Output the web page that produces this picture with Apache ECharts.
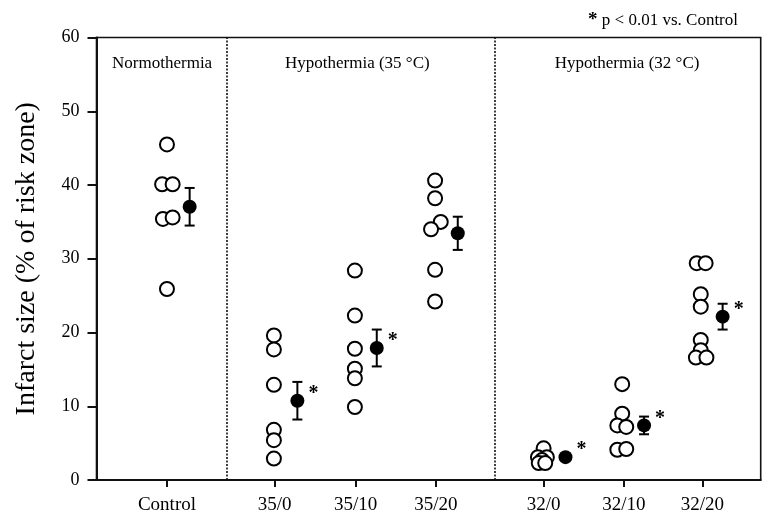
<!DOCTYPE html>
<html>
<head>
<meta charset="utf-8">
<script src="https://cdn.jsdelivr.net/npm/echarts@6/dist/echarts.min.js"></script>
<style>
html,body{margin:0;padding:0;background:#fff}
#chart{width:765px;height:518px}
</style>
</head>
<body>
<div id="chart"></div>
<script>
// groups and where they sit on the x axis
var groups = ['Control', '35/0', '35/10', '35/20', '32/0', '32/10', '32/20'];
var groupX = [0.87, 2.2, 3.2, 4.19, 5.52, 6.51, 7.48];
var dividers = [1.607, 4.92];
var headers = ['Normothermia', 'Hypothermia (35 °C)', 'Hypothermia (32 °C)'];
var headerX = [0.81, 3.22, 6.55];
var headerY = 56.5;

// individual animals (open circles), with small horizontal jitter
var pts = [
  [45.5, 40.1, 40.1, 35.4, 35.6, 25.9],
  [19.6, 17.7, 12.9, 6.8, 5.4, 2.9],
  [28.4, 22.3, 17.8, 15.1, 13.8, 9.9],
  [40.6, 38.2, 35.0, 34.0, 28.5, 24.2],
  [4.3, 3.1, 3.1, 2.7, 2.3, 2.3],
  [13.0, 9.0, 7.4, 7.2, 4.1, 4.2],
  [29.4, 29.4, 25.2, 23.5, 19.0, 17.6, 16.6, 16.6]
];
var jitter = [
  [0, -0.06, 0.07, -0.05, 0.07, 0],
  [-0.01, -0.01, -0.01, -0.01, -0.01, -0.01],
  [-0.01, -0.01, -0.01, -0.01, -0.01, -0.01],
  [-0.01, -0.01, 0.06, -0.06, -0.01, -0.01],
  [0, -0.07, 0.04, -0.02, -0.06, 0.02],
  [-0.02, -0.02, -0.08, 0.03, -0.08, 0.03],
  [-0.07, 0.04, -0.02, -0.02, -0.02, -0.02, -0.08, 0.05]
];

// mean +- SEM (filled circles)
var means = [37.05, 10.75, 17.9, 33.45, 3.1, 7.4, 22.15];
var sem = [2.55, 2.55, 2.5, 2.25, 0.3, 1.2, 1.75];
var meanOffset = [0.28, 0.28, 0.26, 0.27, 0.27, 0.25, 0.25];
var stars = [false, true, true, false, true, true, true];

var yTicks = [0, 10, 20, 30, 40, 50, 60];

var FONT = '"Liberation Serif", "DejaVu Serif", serif';

var circleData = [];
for (var g = 0; g < groups.length; g++) {
  for (var i = 0; i < pts[g].length; i++) {
    circleData.push([groupX[g] + jitter[g][i], pts[g][i]]);
  }
}
var meanData = [];
var errData = [];
for (g = 0; g < groups.length; g++) {
  var mx = groupX[g] + meanOffset[g];
  meanData.push({
    value: [mx, means[g]],
    label: {show: stars[g]}
  });
  errData.push([mx, means[g] - sem[g], means[g] + sem[g]]);
}
var headerData = [];
for (g = 0; g < headers.length; g++) {
  headerData.push({value: [headerX[g], headerY], name: headers[g]});
}

var chart = echarts.init(document.getElementById('chart'));
var option = {
  animation: false,
  backgroundColor: '#fff',
  textStyle: {fontFamily: FONT},
  title: {
    text: '{s|*} p < 0.01 vs. Control',
    right: 22,
    top: 6,
    textStyle: {
      fontFamily: FONT, fontSize: 17, fontWeight: 'normal', color: '#000',
      rich: {s: {fontFamily: FONT, fontSize: 19, fontWeight: 'bold', color: '#000'}}
    }
  },
  grid: {
    left: 96.5, right: 4.3, top: 37.5, bottom: 38,
    containLabel: false,
    outerBoundsMode: 'none',
    show: true, borderColor: '#111', borderWidth: 1.6, backgroundColor: 'transparent'
  },
  xAxis: {
    type: 'value',
    min: 0, max: 8.2,
    splitLine: {show: false},
    axisLine: {lineStyle: {color: '#111', width: 2}},
    axisTick: {show: true, customValues: groupX, length: 7, lineStyle: {color: '#111', width: 2}},
    axisLabel: {
      customValues: groupX,
      margin: 16,
      fontFamily: FONT, fontSize: 19, color: '#000',
      formatter: function (v) {
        var best = 0;
        for (var k = 1; k < groupX.length; k++) {
          if (Math.abs(groupX[k] - v) < Math.abs(groupX[best] - v)) best = k;
        }
        return groups[best];
      }
    }
  },
  yAxis: {
    type: 'value',
    min: yTicks[0], max: yTicks[yTicks.length - 1], interval: 10,
    splitLine: {show: false},
    axisLine: {show: true, lineStyle: {color: '#111', width: 2}},
    axisTick: {show: true, length: 9, lineStyle: {color: '#111', width: 2}},
    axisLabel: {margin: 17, fontFamily: FONT, fontSize: 18, color: '#000'},
    name: 'Infarct size (% of risk zone)',
    nameLocation: 'middle',
    nameGap: 56,
    nameTextStyle: {fontFamily: FONT, fontSize: 28, color: '#000'}
  },
  series: [
    {
      type: 'scatter',
      silent: true,
      data: headerData,
      symbolSize: 0,
      itemStyle: {opacity: 1},
      label: {
        show: true, position: 'inside', formatter: '{b}',
        fontFamily: FONT, fontSize: 17, color: '#000', opacity: 1
      },
      markLine: {
        silent: true,
        symbol: 'none',
        label: {show: false},
        lineStyle: {color: '#111', type: [2, 1.5], width: 1.6, opacity: 1},
        data: dividers.map(function (d) { return {xAxis: d}; })
      }
    },
    {
      type: 'scatter',
      name: 'individual',
      data: circleData,
      symbol: 'circle',
      symbolSize: 14,
      itemStyle: {color: '#fff', borderColor: '#000', borderWidth: 2, opacity: 1},
      z: 3
    },
    {
      type: 'custom',
      name: 'sem',
      data: errData,
      z: 4,
      renderItem: function (params, api) {
        var x = api.value(0);
        var lo = api.coord([x, api.value(1)]);
        var hi = api.coord([x, api.value(2)]);
        var w = 5;
        var st = {stroke: '#000', lineWidth: 2};
        return {
          type: 'group',
          children: [
            {type: 'line', shape: {x1: lo[0], y1: lo[1], x2: hi[0], y2: hi[1]}, style: st},
            {type: 'line', shape: {x1: lo[0] - w, y1: lo[1], x2: lo[0] + w, y2: lo[1]}, style: st},
            {type: 'line', shape: {x1: hi[0] - w, y1: hi[1], x2: hi[0] + w, y2: hi[1]}, style: st}
          ]
        };
      }
    },
    {
      type: 'scatter',
      name: 'mean',
      data: meanData,
      symbol: 'circle',
      symbolSize: 14,
      itemStyle: {color: '#000', opacity: 1},
      z: 5,
      label: {
        position: 'inside',
        offset: [16, -7],
        formatter: '*',
        fontFamily: FONT, fontSize: 20, fontWeight: 'bold', color: '#000'
      }
    }
  ]
};
chart.setOption(option);
</script>
</body>
</html>
